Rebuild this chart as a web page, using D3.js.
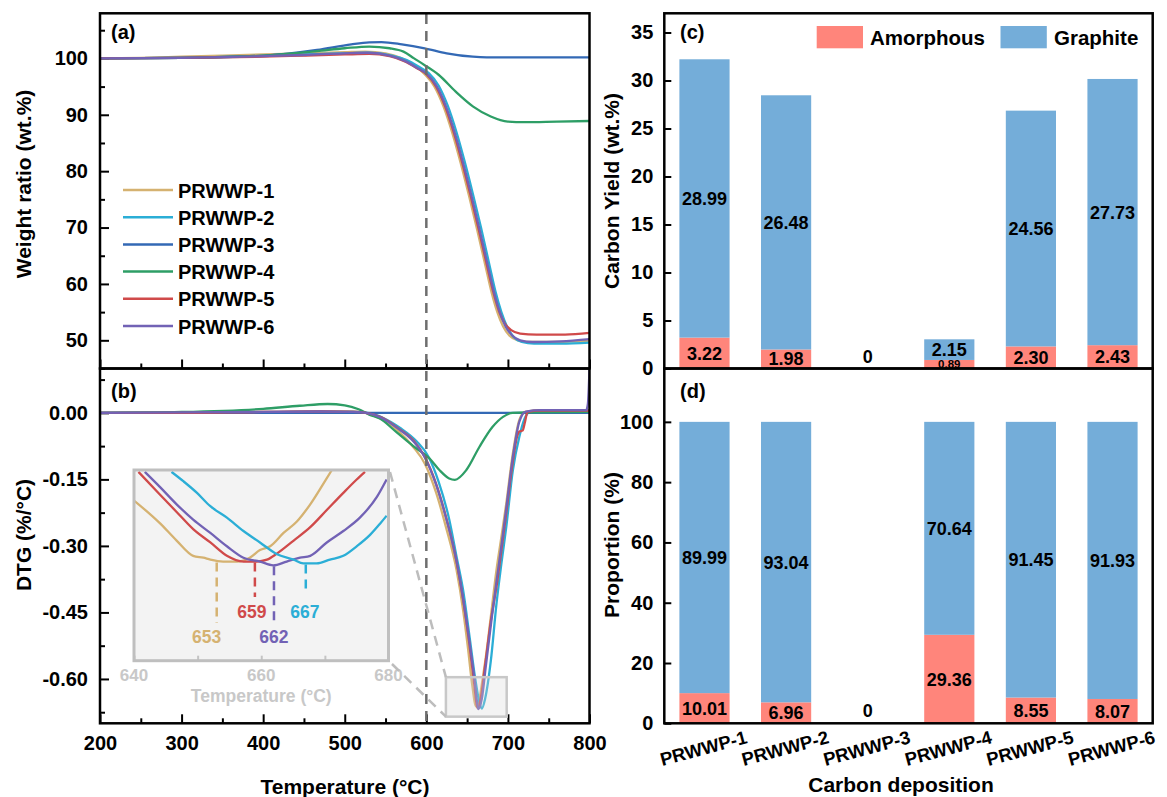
<!DOCTYPE html>
<html>
<head>
<meta charset="utf-8">
<script src="https://cdn.jsdelivr.net/npm/d3@7"></script>
<style>
  body { margin: 0; background: #fff; }
  svg text { font-family: Arial, 'Liberation Sans', sans-serif; font-weight: bold; }
</style>
</head>
<body>
<svg id="fig" width="1167" height="797"></svg>
<script>
// ---- data ----
const names = ['PRWWP-1', 'PRWWP-2', 'PRWWP-3', 'PRWWP-4', 'PRWWP-5', 'PRWWP-6']
const colors = ['#D5B271', '#2BAED6', '#3369B5', '#2E9E66', '#D04A4A', '#7262B5']

// TG, weight ratio (wt.%) vs temperature (C)
const tg1 = [[200,100.0],[250,100.1],[300,100.3],[350,100.5],[400,100.7],[450,100.9],[500,101.1],[525,101.2],[550,100.9],[570,100.0],[585,98.8],[598,97.2],[610,95.0],[621,91.5],[632,86.7],[642,81.5],[652,75.8],[662,69.8],[672,63.5],[680,58.5],[687,55.0],[694,52.5],[702,50.8],[712,50.0],[725,49.7],[760,49.7],[800,49.9]]
const tg2 = [[200,100.0],[300,100.1],[400,100.4],[450,100.7],[500,100.9],[530,101.0],[558,100.5],[576,99.7],[591,98.5],[603,97.4],[615,95.2],[626,91.7],[637,86.9],[647,81.7],[657,76.0],[667,70.0],[677,63.6],[685,58.5],[692,55.0],[699,52.4],[707,50.6],[717,49.7],[732,49.4],[765,49.4],[800,49.6]]
const tg3 = [[200,100.0],[300,100.1],[402,100.5],[466,101.5],[508,102.5],[530,102.85],[545,102.9],[570,102.5],[598,101.8],[625,100.9],[657,100.3],[674,100.2],[720,100.2],[800,100.2]]
const tg4 = [[200,100.0],[300,100.1],[400,100.5],[466,101.3],[500,101.8],[530,102.1],[555,101.8],[572,101.2],[585,100.0],[598,98.8],[615,97.1],[636,94.1],[657,91.5],[679,89.7],[700,88.8],[720,88.7],[760,88.8],[800,88.9]]
const tg5 = [[200,100.0],[300,100.1],[400,100.3],[450,100.5],[500,100.7],[530,100.8],[555,100.4],[573,99.5],[588,98.3],[600,97.2],[612,95.0],[623,91.5],[634,86.7],[644,81.5],[654,75.8],[664,69.8],[674,63.5],[682,58.6],[689,55.2],[696,53.0],[704,51.8],[715,51.2],[735,51.0],[770,51.0],[800,51.3]]
const tg6 = [[200,100.0],[300,100.1],[400,100.4],[450,100.6],[500,100.9],[528,101.0],[555,100.5],[573,99.6],[589,98.3],[601,97.2],[613,95.0],[624,91.5],[635,86.7],[645,81.5],[655,75.8],[665,69.8],[675,63.5],[683,58.5],[690,55.0],[697,52.5],[705,50.9],[715,50.0],[730,49.7],[765,49.8],[800,50.2]]

// DTG (%/C) vs temperature (C)
const dtg1 = [[200,0],[300,0.001],[400,0.002],[470,0.004],[510,0.003],[525,0],[545,-0.014],[565,-0.04],[584,-0.077],[598,-0.114],[612,-0.18],[624,-0.257],[637,-0.354],[645,-0.444],[651,-0.53],[656,-0.61],[661,-0.662],[665,-0.645],[669,-0.6],[673,-0.55],[679,-0.46],[686,-0.354],[692,-0.28],[698,-0.204],[706,-0.092],[714,-0.016],[721,0.002],[740,0.006],[800,0.006]]
const dtg2 = [[200,0],[300,0],[400,0.001],[470,0.002],[510,0.002],[528,0],[548,-0.012],[568,-0.034],[588,-0.064],[603,-0.1],[615,-0.155],[628,-0.24],[637,-0.324],[645,-0.399],[653,-0.505],[660,-0.6],[665,-0.652],[668,-0.667],[672,-0.645],[679,-0.56],[686,-0.43],[692,-0.34],[698,-0.257],[706,-0.13],[714,-0.054],[720,-0.015],[726,0.001],[740,0.005],[800,0.005]]
const dtg3 = [[200,0],[500,0],[800,0]]
const dtg4 = [[200,0],[300,0.002],[400,0.009],[445,0.016],[479,0.02],[500,0.017],[517,0.008],[530,-0.004],[543,-0.013],[563,-0.043],[584,-0.075],[604,-0.103],[616,-0.129],[628,-0.148],[635,-0.151],[649,-0.129],[665,-0.077],[681,-0.032],[694,-0.009],[706,0],[800,0.002]]
const dtg5 = [[200,0],[300,0],[400,0.002],[470,0.003],[510,0.002],[526,0],[545,-0.01],[565,-0.034],[584,-0.062],[598,-0.099],[612,-0.16],[624,-0.234],[637,-0.335],[645,-0.42],[652,-0.51],[658,-0.6],[663,-0.666],[667,-0.64],[672,-0.57],[679,-0.47],[686,-0.392],[692,-0.31],[698,-0.225],[706,-0.11],[711,-0.055],[714,-0.042],[718,-0.04],[721,-0.02],[724,0.002],[740,0.005],[800,0.005]]
const dtg6 = [[200,0],[300,0.001],[400,0.002],[470,0.003],[510,0.002],[526,0],[545,-0.011],[565,-0.035],[584,-0.064],[598,-0.1],[612,-0.162],[624,-0.236],[637,-0.334],[645,-0.418],[652,-0.505],[659,-0.6],[664,-0.668],[668,-0.645],[673,-0.57],[680,-0.465],[686,-0.38],[692,-0.3],[698,-0.215],[706,-0.1],[714,-0.02],[722,0.003],[740,0.006],[796,0.006],[798,0.02],[800,0.1]]

// inset, zoom of the DTG trough (series 1, 5, 6, 2)
const insetTan = [[640,-0.636],[644.1,-0.648],[646.7,-0.657],[649.3,-0.665],[650.9,-0.666],[652,-0.667],[654,-0.668],[656.2,-0.668],[658.2,-0.666],[659.8,-0.662],[661.4,-0.660],[663.5,-0.653],[665.6,-0.647],[667.7,-0.638],[669.8,-0.627],[671.1,-0.620]]
const insetRed = [[640.7,-0.621],[644.1,-0.633],[646.7,-0.642],[649.3,-0.651],[652,-0.658],[654.6,-0.665],[657.2,-0.668],[659.3,-0.668],[660.9,-0.667],[662.4,-0.664],[665.1,-0.657],[667.7,-0.650],[670.3,-0.641],[672.9,-0.632],[675,-0.625],[676.3,-0.621]]
const insetPurple = [[641.7,-0.621],[644.1,-0.629],[646.7,-0.638],[649.3,-0.646],[652,-0.653],[654.6,-0.660],[657.2,-0.666],[659.8,-0.668],[661.9,-0.670],[664,-0.668],[666.1,-0.666],[667.7,-0.665],[670.3,-0.658],[672.9,-0.652],[675.5,-0.645],[678.2,-0.634],[679.7,-0.625]]
const insetCyan = [[645.9,-0.621],[647.8,-0.626],[649.9,-0.632],[652,-0.639],[654.6,-0.645],[657.2,-0.652],[659.8,-0.658],[662.4,-0.664],[665.1,-0.667],[666.6,-0.669],[668.7,-0.669],[670.8,-0.667],[672.9,-0.665],[675,-0.660],[677.1,-0.654],[678.7,-0.648],[679.7,-0.644]]
const insetPeaks = [653, 659, 662, 667]
const insetTicks = [640, 650, 660, 670, 680]
const insetLabels = [640, 660, 680]

// carbon deposition
const amorphous = [3.22, 1.98, 0, 0.89, 2.30, 2.43]
const graphite = [28.99, 26.48, 0, 2.15, 24.56, 27.73]
const amorphousPct = [10.01, 6.96, 0, 29.36, 8.55, 8.07]
const graphitePct = [89.99, 93.04, 0, 70.64, 91.45, 91.93]

const tempTicks = [200, 300, 400, 500, 600, 700, 800]
const tgTicks = [50, 60, 70, 80, 90, 100]
const dtgTicks = [-0.6, -0.45, -0.3, -0.15, 0]
const yieldTicks = [0, 5, 10, 15, 20, 25, 30, 35]
const propTicks = [0, 20, 40, 60, 80, 100]

const tgSeries = [tg1, tg2, tg3, tg4, tg5, tg6]
const dtgSeries = [dtg1, dtg2, dtg3, dtg4, dtg5, dtg6]

// ---- drawing ----
const svg = d3.select('#fig')
const cAmor = '#FF857B', cGraph = '#74ADD9'

const xT = d3.scaleLinear().domain([200, 800]).range([100, 589.5])
const yTG = d3.scaleLinear().domain([45, 108]).range([368.5, 13.3])
const yDTG = d3.scaleLinear().domain([-0.7, 0.1]).range([723.3, 368.5])
const xBar = d3.scaleBand().domain(names).range([664.3, 1152.7]).paddingInner(0.385).paddingOuter(0.185)
const yYield = d3.scaleLinear().domain([0, 37]).range([368.5, 13.3])
const yProp = d3.scaleLinear().domain([0, 117.7]).range([723.3, 368.5])

const defs = svg.append('defs')
function clip(id, x0, y0, x1, y1) {
  defs.append('clipPath').attr('id', id).append('rect')
    .attr('x', x0).attr('y', y0).attr('width', x1 - x0).attr('height', y1 - y0)
}
clip('clipA', 100, 13.3, 589.5, 368.5)
clip('clipB', 100, 368.5, 589.5, 723.3)

function styleAxis(g, size) {
  g.select('.domain').remove()
  g.selectAll('line').attr('stroke', '#000').attr('stroke-width', 2)
  g.selectAll('text').attr('font-size', size).attr('fill', '#000')
    .attr('font-family', "Arial, 'Liberation Sans', sans-serif").attr('font-weight', 'bold')
}

function frame(x0, y0, x1, y1) {
  svg.append('rect').attr('x', x0).attr('y', y0).attr('width', x1 - x0).attr('height', y1 - y0)
    .attr('fill', 'none').attr('stroke', '#000').attr('stroke-width', 2.5)
}

const line = (xs, ys) => d3.line().x((d) => xs(d[0])).y((d) => ys(d[1])).curve(d3.curveMonotoneX)

// panel (a) TG
svg.append('g').attr('transform', 'translate(100,0)')
  .call(d3.axisLeft(yTG).tickValues(tgTicks).tickSize(-9).tickPadding(12))
  .call(styleAxis, 20)
svg.append('g').attr('transform', 'translate(100,0)')
  .call(d3.axisLeft(yTG).tickValues(d3.range(45, 108, 10)).tickSize(-5).tickFormat(''))
  .call(styleAxis, 20)
svg.append('g').attr('transform', 'translate(0,368.5)')
  .call(d3.axisBottom(xT).tickValues(tempTicks).tickSize(-9).tickFormat(''))
  .call(styleAxis, 20)
svg.append('g').attr('transform', 'translate(0,368.5)')
  .call(d3.axisBottom(xT).tickValues(d3.range(250, 800, 100)).tickSize(-5).tickFormat(''))
  .call(styleAxis, 20)

svg.append('g').attr('clip-path', 'url(#clipA)')
  .selectAll('path').data(tgSeries).enter().append('path')
  .attr('d', line(xT, yTG)).attr('fill', 'none')
  .attr('stroke', (d, i) => colors[i]).attr('stroke-width', 2.3)

// panel (b) DTG
svg.append('g').attr('transform', 'translate(100,0)')
  .call(d3.axisLeft(yDTG).tickValues(dtgTicks).tickSize(-9).tickPadding(12).tickFormat((d) => d.toFixed(2)))
  .call(styleAxis, 20)
svg.append('g').attr('transform', 'translate(100,0)')
  .call(d3.axisLeft(yDTG).tickValues([-0.675, -0.525, -0.375, -0.225, -0.075, 0.075]).tickSize(-5).tickFormat(''))
  .call(styleAxis, 20)
svg.append('g').attr('transform', 'translate(0,723.3)')
  .call(d3.axisBottom(xT).tickValues(tempTicks).tickSize(-9).tickPadding(13))
  .call(styleAxis, 20)
svg.append('g').attr('transform', 'translate(0,723.3)')
  .call(d3.axisBottom(xT).tickValues(d3.range(250, 800, 100)).tickSize(-5).tickFormat(''))
  .call(styleAxis, 20)

svg.append('g').attr('clip-path', 'url(#clipB)')
  .selectAll('path').data(dtgSeries).enter().append('path')
  .attr('d', line(xT, yDTG)).attr('fill', 'none')
  .attr('stroke', (d, i) => colors[i]).attr('stroke-width', 2.3)

// dashed marker at 600 C
svg.append('line').attr('x1', xT(600)).attr('x2', xT(600)).attr('y1', 14).attr('y2', 722)
  .attr('stroke', '#6E6E6E').attr('stroke-width', 2.5).attr('stroke-dasharray', '10,7')

frame(100, 13.3, 589.5, 368.5)
frame(100, 368.5, 589.5, 723.3)

// inset
const xI = d3.scaleLinear().domain([640, 680]).range([134, 388.5])
const yI = d3.scaleLinear().domain([-0.72, -0.62]).range([660.7, 470])
clip('clipI', 134, 470, 388.5, 660.7)
const insetSeries = [[insetTan, colors[0]], [insetRed, colors[4]], [insetPurple, colors[5]], [insetCyan, colors[1]]]
const insetMins = [insetTan, insetRed, insetPurple, insetCyan].map((s) => d3.min(s, (d) => d[1]))

svg.append('rect').attr('x', 134).attr('y', 470).attr('width', 254.5).attr('height', 190.7)
  .attr('fill', '#F3F3F3')
svg.append('g').attr('transform', 'translate(0,660.7)')
  .call(d3.axisBottom(xI).tickValues(insetTicks).tickSize(-5).tickFormat(''))
  .call((g) => { g.select('.domain').remove(); g.selectAll('line').attr('stroke', '#C4C4C4').attr('stroke-width', 2) })
svg.append('g').attr('clip-path', 'url(#clipI)')
  .selectAll('path').data(insetSeries).enter().append('path')
  .attr('d', (d) => line(xI, yI)(d[0])).attr('fill', 'none')
  .attr('stroke', (d) => d[1]).attr('stroke-width', 2.3)

const peakEnd = [623, 597, 623, 593]
const peakLabelY = [643, 618, 643, 618]
insetPeaks.forEach((p, i) => {
  const c = insetSeries[i][1]
  svg.append('line').attr('x1', xI(p)).attr('x2', xI(p))
    .attr('y1', yI(insetMins[i]) + 1).attr('y2', peakEnd[i])
    .attr('stroke', c).attr('stroke-width', 2.5).attr('stroke-dasharray', '9,6')
  svg.append('text').attr('x', xI(p) + [-10, -3, 0, -1][i]).attr('y', peakLabelY[i])
    .attr('text-anchor', 'middle').attr('font-size', 17.5).attr('fill', c).text(p)
})

svg.append('rect').attr('x', 134).attr('y', 470).attr('width', 254.5).attr('height', 190.7)
  .attr('fill', 'none').attr('stroke', '#BFBFBF').attr('stroke-width', 3)

svg.selectAll('.ilab').data(insetLabels).enter().append('text')
  .attr('x', (d) => xI(d)).attr('y', 681).attr('text-anchor', 'middle')
  .attr('font-size', 17).attr('fill', '#C8C8C8').text((d) => d)
svg.append('text').attr('x', xI(660)).attr('y', 702).attr('text-anchor', 'middle')
  .attr('font-size', 17.5).attr('fill', '#C8C8C8').text('Temperature (\u00B0C)')

// zoom box on the trough and connectors
const zx0 = xT(624), zx1 = xT(698.5), zy0 = yDTG(-0.596), zy1 = yDTG(-0.685)
svg.append('rect').attr('x', zx0).attr('y', zy0).attr('width', zx1 - zx0).attr('height', zy1 - zy0)
  .attr('fill', '#D8D8D8').attr('fill-opacity', 0.3).attr('stroke', '#C8C8C8').attr('stroke-width', 2.5)
svg.append('line').attr('x1', 390).attr('y1', 472).attr('x2', zx0).attr('y2', zy0)
  .attr('stroke', '#BDBDBD').attr('stroke-width', 2.5).attr('stroke-dasharray', '10,7')
svg.append('line').attr('x1', 392).attr('y1', 664).attr('x2', zx0).attr('y2', zy1)
  .attr('stroke', '#BDBDBD').attr('stroke-width', 2.5).attr('stroke-dasharray', '10,7')

// legend (a)
names.forEach((n, i) => {
  const y = 190 + i * 27.2
  svg.append('line').attr('x1', 123).attr('x2', 173).attr('y1', y).attr('y2', y)
    .attr('stroke', colors[i]).attr('stroke-width', 2.5)
  svg.append('text').attr('x', 178).attr('y', y + 7.5).attr('font-size', 20).text(n)
})

svg.append('text').attr('x', 111).attr('y', 39).attr('font-size', 20).text('(a)')
svg.append('text').attr('x', 111).attr('y', 398).attr('font-size', 20).text('(b)')
svg.append('text').attr('transform', 'translate(31,184) rotate(-90)').attr('text-anchor', 'middle')
  .attr('font-size', 21).text('Weight ratio (wt.%)')
svg.append('text').attr('transform', 'translate(31,535) rotate(-90)').attr('text-anchor', 'middle')
  .attr('font-size', 21).text('DTG (%/\u00B0C)')
svg.append('text').attr('x', 345).attr('y', 794).attr('text-anchor', 'middle')
  .attr('font-size', 21).text('Temperature (\u00B0C)')

// panels (c) and (d): stacked bars
function stacked(ys, a, g, smallLimit) {
  const bw = xBar.bandwidth()
  names.forEach((n, i) => {
    const x = xBar(n), cx = x + bw / 2
    if (a[i] + g[i] === 0) {
      svg.append('text').attr('x', cx).attr('y', ys(0) - 6).attr('text-anchor', 'middle')
        .attr('font-size', 18).text('0')
      return
    }
    svg.append('rect').attr('x', x).attr('width', bw).attr('y', ys(a[i])).attr('height', ys(0) - ys(a[i]))
      .attr('fill', cAmor)
    svg.append('rect').attr('x', x).attr('width', bw).attr('y', ys(a[i] + g[i])).attr('height', ys(a[i]) - ys(a[i] + g[i]))
      .attr('fill', cGraph)
    const hA = ys(0) - ys(a[i])
    const fsA = hA < smallLimit ? 11.5 : 18
    svg.append('text').attr('x', cx).attr('y', (ys(0) + ys(a[i])) / 2).attr('dy', '0.36em')
      .attr('text-anchor', 'middle').attr('font-size', fsA).text(a[i].toFixed(2))
    svg.append('text').attr('x', cx).attr('y', (ys(a[i]) + ys(a[i] + g[i])) / 2).attr('dy', '0.36em')
      .attr('text-anchor', 'middle').attr('font-size', 18).text(g[i].toFixed(2))
  })
}

svg.append('g').attr('transform', 'translate(664.3,0)')
  .call(d3.axisLeft(yYield).tickValues(yieldTicks).tickSize(-7).tickPadding(11))
  .call(styleAxis, 20)
stacked(yYield, amorphous, graphite, 12)

svg.append('g').attr('transform', 'translate(664.3,0)')
  .call(d3.axisLeft(yProp).tickValues(propTicks).tickSize(-7).tickPadding(11))
  .call(styleAxis, 20)
stacked(yProp, amorphousPct, graphitePct, 12)

frame(664.3, 13.3, 1152.7, 368.5)
frame(664.3, 368.5, 1152.7, 723.3)

// legend (c)
svg.append('rect').attr('x', 816.7).attr('y', 26).attr('width', 46.3).attr('height', 22.3).attr('fill', cAmor)
svg.append('text').attr('x', 870).attr('y', 44.5).attr('font-size', 20.5).text('Amorphous')
svg.append('rect').attr('x', 1000.5).attr('y', 26).attr('width', 46.3).attr('height', 22.3).attr('fill', cGraph)
svg.append('text').attr('x', 1054).attr('y', 44.5).attr('font-size', 20.5).text('Graphite')

svg.append('text').attr('x', 680).attr('y', 39).attr('font-size', 20).text('(c)')
svg.append('text').attr('x', 680).attr('y', 398).attr('font-size', 20).text('(d)')

svg.selectAll('.blab').data(names).enter().append('text')
  .attr('transform', (d) => 'translate(' + (xBar(d) + xBar.bandwidth() / 2 - 1) + ',748) rotate(-15)')
  .attr('text-anchor', 'middle').attr('dy', '0.36em').attr('font-size', 18.5).text((d) => d)

svg.append('text').attr('transform', 'translate(619,191) rotate(-90)').attr('text-anchor', 'middle')
  .attr('font-size', 21).text('Carbon Yield (wt.%)')
svg.append('text').attr('transform', 'translate(619,545) rotate(-90)').attr('text-anchor', 'middle')
  .attr('font-size', 21).text('Proportion (%)')
svg.append('text').attr('x', 901).attr('y', 792).attr('text-anchor', 'middle')
  .attr('font-size', 21).text('Carbon deposition')
</script>
</body>
</html>
